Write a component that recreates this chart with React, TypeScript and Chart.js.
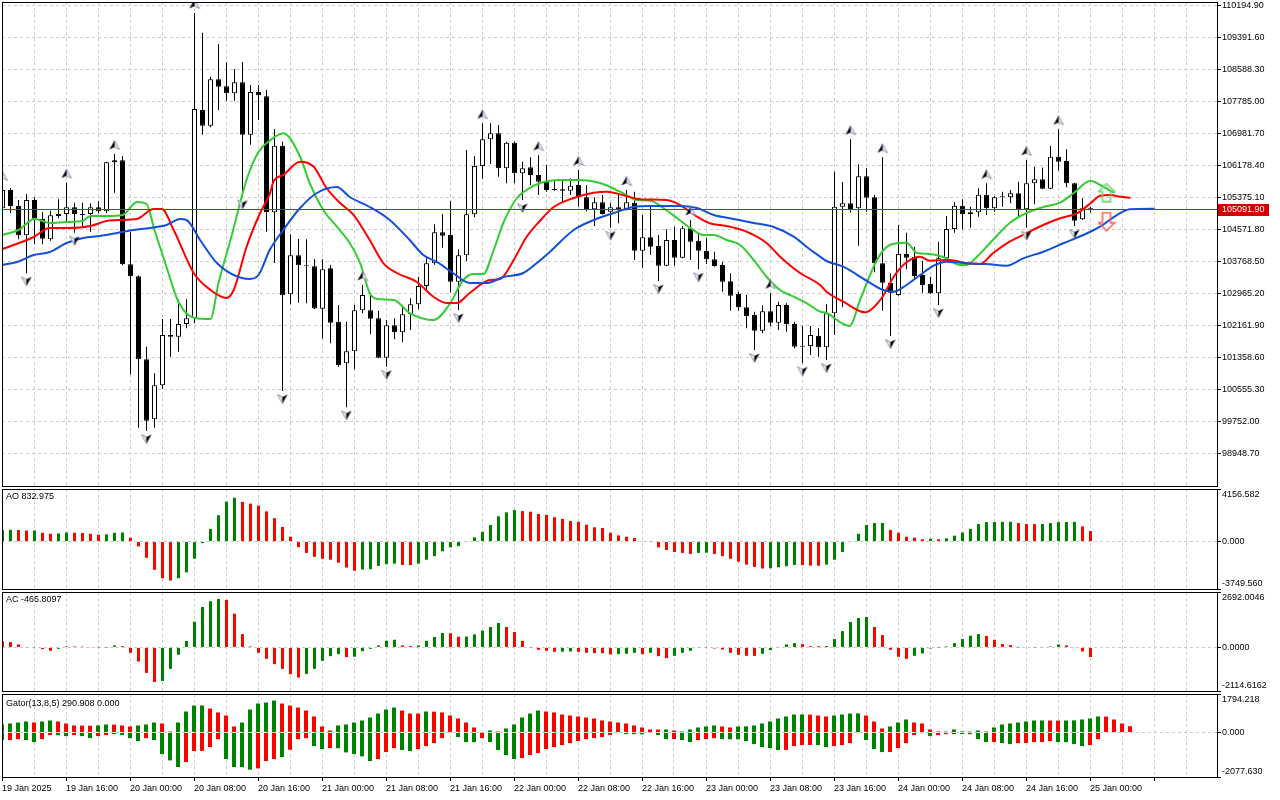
import React, { useEffect, useRef } from "react";
import { Chart, registerables } from "chart.js";

Chart.register(...registerables);

const FONT_FAMILY = "'Liberation Sans', Arial, Helvetica, sans-serif";
Chart.defaults.font.family = FONT_FAMILY;
Chart.defaults.font.size = 9;
Chart.defaults.color = "#000";

const GRID_COLOR = "#cccccc";
const BULL = "#008000";
const BEAR = "#ff0000";
const JAW_COLOR = "#1250d8";
const TEETH_COLOR = "#ff0000";
const LIPS_COLOR = "#32cd32";

// ---------- time axis ----------
const xLabels = [
  "19 Jan 2025", "19 Jan 16:00", "20 Jan 00:00", "20 Jan 08:00", "20 Jan 16:00",
  "21 Jan 00:00", "21 Jan 08:00", "21 Jan 16:00", "22 Jan 00:00", "22 Jan 08:00",
  "22 Jan 16:00", "23 Jan 00:00", "23 Jan 08:00", "23 Jan 16:00", "24 Jan 00:00",
  "24 Jan 08:00", "24 Jan 16:00", "25 Jan 00:00",
];

// ---------- price axis ----------
const priceMax = 110295.3;
const priceMin = 98145.4;
const priceTicks = [
  110194.9, 109391.6, 108588.3, 107785.0, 106981.7, 106178.4, 105375.1, 104571.8,
  103768.5, 102965.2, 102161.9, 101358.6, 100555.3, 99752.0, 98948.7,
];

// ---------- candles (H1) ----------
const opens = [
  105116, 105576, 105174, 104438, 105325, 104856, 104338, 104973, 104973, 105141,
  104973, 104973, 105141, 105040, 106270, 106321, 103710, 103409, 101325, 99819,
  100672, 101936, 101894, 102212, 102354, 107584, 107191, 108354, 108178, 108003,
  108279, 106965, 108036, 107927, 105016, 106688, 102958, 103937, 103686, 103661,
  102596, 103610, 102270, 101226, 101527, 102556, 102556, 102355, 101366, 102180,
  102004, 102456, 102707, 103166, 103736, 104514, 104446, 103274, 103937, 104966,
  106178, 106849, 106999, 106121, 106763, 105995, 106146, 105953, 105784, 105576,
  105594, 105558, 105701, 105393, 105092, 105267, 105031, 105142, 105074, 105257,
  104052, 104389, 104170, 103676, 104321, 103877, 104615, 104303, 104045, 103836,
  103693, 103284, 102965, 102631, 102438, 102044, 102531, 102245, 102689, 102212,
  101642, 101660, 101918, 101627, 102481, 105157, 105242, 105117, 105920, 105393,
  103736, 103249, 102940, 103969, 103901, 103442, 103216, 102983, 103861, 104597,
  105182, 104973, 105016, 105458, 105117, 105393, 105393, 105493, 105092, 105744,
  105844, 105609, 106412, 106304, 105744, 104840, 105117,
];
const highs = [
  105700, 105618, 105325, 105475, 105392, 105024, 105057, 105342, 105760, 105258,
  105258, 105241, 105291, 106287, 106480, 106429, 104513, 103430, 101643, 100974,
  102338, 102338, 102831, 102831, 110020, 109525, 108421, 109241, 108781, 108613,
  108789, 108212, 108212, 108086, 107107, 106788, 104464, 104346, 104338, 103836,
  103836, 103693, 102689, 102270, 102689, 103191, 102998, 102546, 102313, 102355,
  102689, 102857, 103399, 103861, 104715, 104973, 105300, 104087, 106580, 106429,
  107250, 107250, 107208, 106788, 106790, 106286, 106397, 106450, 106203, 105827,
  105809, 105870, 106078, 105701, 105393, 105450, 105257, 105475, 105576, 105533,
  104948, 105157, 104446, 104589, 104655, 104672, 104823, 104471, 104364, 104027,
  103776, 103485, 103023, 102940, 102521, 102681, 102983, 102772, 102732, 102270,
  102170, 102162, 102104, 102707, 106035, 105777, 106849, 106221, 106121, 105450,
  106397, 103485, 104697, 104504, 104153, 103801, 103399, 104278, 104923, 105267,
  105342, 105157, 105619, 105744, 105425, 105533, 105576, 105784, 106329, 106161,
  106140, 106680, 107100, 106598, 105760, 105368, 105157,
];
const lows = [
  105074, 104990, 104338, 103484, 104212, 104212, 104304, 104865, 104798, 104505,
  104655, 104530, 104990, 104990, 105509, 103690, 100949, 99610, 99526, 99610,
  100580, 101392, 101518, 102103, 102229, 106965, 107150, 107584, 107818, 107818,
  105409, 106714, 107333, 104530, 103743, 100530, 102707, 102747, 102732, 102589,
  101843, 101728, 101140, 100121, 101075, 102481, 101954, 101351, 101140, 101828,
  101753, 102061, 102581, 103066, 103700, 104127, 103008, 102564, 103794, 104891,
  105860, 106229, 105910, 105744, 105744, 105325, 105701, 105450, 105533, 105560,
  105257, 105450, 105157, 105040, 104672, 104960, 104630, 104740, 105060, 103819,
  103625, 103944, 103292, 103660, 103676, 103860, 103819, 103585, 103718, 103650,
  103023, 102546, 102546, 102104, 101560, 101979, 102162, 102061, 102019, 101600,
  101226, 101434, 101391, 101308, 101936, 102631, 105006, 104178, 105031, 103510,
  102546, 101911, 102920, 103585, 103317, 102998, 102965, 102689, 103819, 104504,
  104589, 104630, 104906, 104948, 105031, 105157, 105242, 104923, 104630, 105217,
  105594, 105594, 106060, 105644, 104672, 104820, 105006,
];
const closes = [
  105576, 105174, 104438, 105325, 104856, 104354, 104940, 104923, 105141, 104973,
  104948, 105141, 105040, 106270, 106321, 103710, 103409, 101325, 99786, 100672,
  101936, 101894, 102212, 102354, 107609, 107191, 108354, 108170, 108003, 108279,
  106965, 108036, 107952, 105015, 106688, 102933, 103937, 103686, 103661, 102600,
  103585, 102245, 101183, 101527, 102556, 102940, 102345, 101366, 102180, 102004,
  102456, 102707, 103166, 103736, 104514, 104429, 103274, 103937, 104966, 106178,
  106849, 106999, 106121, 106763, 105995, 106121, 105953, 105784, 105576, 105601,
  105558, 105684, 105393, 105074, 105267, 104973, 105142, 105074, 105267, 104052,
  104389, 104153, 103676, 104321, 103877, 104615, 104278, 104052, 103836, 103668,
  103274, 102923, 102631, 102413, 102044, 102531, 102245, 102689, 102212, 101642,
  101660, 101936, 101627, 102481, 105157, 105242, 105099, 105920, 105383, 103736,
  103249, 102998, 103969, 103877, 103417, 103191, 102983, 103861, 104597, 105182,
  104966, 105016, 105458, 105117, 105393, 105408, 105493, 105092, 105744, 105844,
  105609, 106412, 106286, 105744, 104805, 105117, 105091.9,
];

// ---------- fractals (bar indices) ----------
const upFractals = [0, 8, 14, 24, 45, 60, 67, 72, 78, 86, 96, 106, 110, 123, 128, 132];
const downFractals = [3, 9, 18, 30, 35, 43, 48, 57, 65, 76, 82, 87, 94, 100, 103, 111, 117, 128, 134];

// ---------- alligator (bar index, price) ----------
const jawLine = [
  [0, 103693], [1.8, 103769], [3.9, 103944], [5.9, 104020], [8, 104245], [10.1, 104371],
  [12.2, 104421], [14.3, 104497], [16.4, 104572], [18.4, 104622], [20.5, 104697], [22.2, 104848],
  [23, 104823], [24.7, 104321], [26.8, 103743], [28.9, 103442], [30.9, 103342], [32, 103442],
  [33.4, 104070], [35.1, 104572], [37.2, 105124], [39.3, 105501], [41.8, 105651], [43.4, 105400],
  [45.9, 105149], [48.4, 104823], [50.9, 104321], [52.6, 103944], [54.3, 103769], [56.3, 103492],
  [58.4, 103241], [60.5, 103241], [62.6, 103392], [65.1, 103492], [66.8, 103743], [68.4, 104020],
  [71.4, 104572], [73.9, 104823], [76.4, 104999], [78.9, 105149], [81, 105174], [84.7, 105174],
  [86.8, 105124], [88.9, 104948], [91.4, 104848], [93.9, 104748], [96.4, 104647], [98.9, 104404],
  [100.5, 104153], [102.2, 103902], [103, 103794], [105.1, 103650], [108, 103299], [110.1, 103066],
  [111.4, 103023], [113, 103191], [114.7, 103442], [116.4, 103676], [118, 103776], [120.5, 103736],
  [123, 103718], [125.5, 103676], [127.6, 103861], [130.1, 104027], [132.6, 104238], [135.1, 104446],
  [137.2, 104655], [139.3, 104948], [140.9, 105092], [144, 105107],
];
const teethLine = [
  [0, 104095], [3.9, 104396], [5.9, 104622], [8, 104622], [11, 104672], [13, 104798],
  [14.7, 104823], [16.8, 104848], [18.9, 105099], [19.9, 105099], [21.4, 104572], [23.9, 103492],
  [26, 103066], [28, 102865], [28.9, 103066], [30.5, 104145], [32.2, 104999], [33.4, 105475],
  [33.9, 105800], [35.1, 105953], [37.2, 106286], [38.9, 106161], [40.5, 105626], [42.2, 105250],
  [43.9, 104948], [45.9, 104321], [47.6, 103743], [49.3, 103492], [51.8, 103266], [53.9, 102890],
  [55.5, 102739], [56.8, 102739], [58.4, 102990], [60.9, 103317], [62.2, 103342], [63.9, 103819],
  [65.5, 104396], [67.2, 104805], [68.9, 105149], [71.4, 105375], [73.9, 105508], [75.5, 105533],
  [78, 105425], [79.7, 105342], [83, 105325], [84.7, 105199], [86.8, 104906], [88.4, 104740],
  [90.5, 104672], [93, 104529], [95.5, 104245], [97.2, 103902], [99.7, 103492], [102.2, 103191],
  [103, 103023], [105.1, 102772], [107.8, 102506], [109.9, 102865], [111.4, 103399], [113, 103761],
  [114.7, 103902], [115.9, 103801], [118.4, 103819], [120.5, 103736], [122.2, 103718], [123.8, 103987],
  [125.9, 104278], [128, 104489], [130.1, 104697], [132.2, 104866], [134.3, 104991], [136, 105242],
  [137.2, 105433], [138.5, 105450], [139.7, 105408], [141, 105383],
];
const lipsLine = [
  [0, 104446], [2, 104572], [4, 104848], [6, 104748], [8, 104773], [10, 104798], [11, 104923],
  [13, 104923], [15, 104948], [16.8, 105275], [18, 105224], [19, 104572], [20.5, 103643],
  [22, 102764], [24, 102363], [26, 102338], [27, 103241], [28.5, 104321], [30.5, 105827],
  [32, 106530], [33.4, 106813], [35.1, 106999], [37.2, 106412], [38.4, 105752], [40.1, 105074],
  [41.8, 104655], [43.4, 104245], [44.7, 103743], [45.9, 102990], [46.8, 102840], [48.9, 102815],
  [50.9, 102488], [53.9, 102313], [55.9, 102714], [57.6, 103317], [58.9, 103467], [60.1, 103467],
  [61.4, 104070], [62.6, 104748], [64.3, 105375], [65.5, 105576], [67.2, 105752], [69.7, 105827],
  [71.8, 105827], [74.7, 105752], [77.2, 105533], [79.3, 105325], [81, 105307], [82.6, 105124],
  [84.3, 104873], [86, 104622], [87.6, 104446], [88.9, 104446], [90.5, 104321], [92.2, 104195],
  [93.9, 103819], [95.5, 103399], [97.2, 103066], [98.9, 102897], [100.5, 102739], [102.2, 102521],
  [103, 102488], [105.1, 102212], [105.9, 102162], [107.2, 102815], [109.3, 103819], [110.9, 104195],
  [113, 104253], [114.3, 103994], [115.9, 103969], [117.6, 103894], [119.7, 103693], [120.5, 103693],
  [121.8, 103902], [123.8, 104321], [125.9, 104748], [128, 104999], [130.1, 105149], [132.2, 105257],
  [133.9, 105501], [136, 105809], [137.2, 105701], [139, 105501],
];
const signalUp = [[138, 105513]];
const signalDown = [[138, 104780]];

// ---------- Awesome Oscillator ----------
const aoTitle = "AO 832.975";
const aoRange = [-3749.56, 4156.582];
const aoValues = [
  924, 930, 915, 873, 880, 693, 616, 642, 719, 693,
  680, 616, 540, 570, 693, 719, 308, -385, -1283, -2233,
  -2900, -3080, -2900, -2439, -1360, -128, 1001, 2079, 3157, 3465,
  3132, 3003, 2849, 2387, 1848, 1155, 385, -436, -898, -1206,
  -1360, -1437, -1669, -2054, -2310, -2208, -2182, -1925, -1797, -1746,
  -1848, -1860, -1746, -1437, -1155, -770, -462, -359, -30, 334,
  770, 1309, 2002, 2310, 2490, 2413, 2362, 2182, 2105, 1925,
  1797, 1617, 1566, 1335, 1129, 1078, 693, 488, 385, 282,
  50, -20, -462, -667, -821, -898, -975, -898, -880, -975,
  -1155, -1360, -1591, -1822, -2002, -2130, -2110, -2028, -1950, -1848,
  -1860, -1900, -1910, -1822, -1437, -821, -30, 616, 1309, 1463,
  1470, 924, 693, 385, 308, 180, 231, 180, 257, 462,
  719, 1001, 1386, 1540, 1550, 1560, 1565, 1463, 1386, 1380,
  1390, 1463, 1540, 1550, 1560, 1200, 833,
];
const aoColors =
  "ggrrgrrggr" + "rrrgggrrrr" + "rrgggggggg" + "rrrrrrrrrr" + "rrrrrggggg" +
  "rrgggggggg" + "gggggrrrrr" + "rrrrrrrrrr" + "rrrrrrrggr" + "rrrrrrgggg" +
  "rrrggggggg" + "grrrrrgrgg" + "gggggggrrr" + "gggggrr";

// ---------- Accelerator Oscillator ----------
const acTitle = "AC -465.8097";
const acRange = [-2114.6162, 2692.0046];
const acValues = [
  293, 260, 146, -16, -10, -81, -163, -65, 49, 49,
  40, 16, 5, -5, 97, 65, -260, -683, -1235, -1674,
  -1625, -1040, -358, 309, 1251, 1966, 2243, 2356, 2308, 1641,
  650, 49, -260, -553, -813, -1040, -1300, -1463, -1284, -1040,
  -650, -423, -325, -470, -450, -179, -65, 97, 325, 374,
  97, 65, 97, 325, 504, 699, 690, 520, 530, 634,
  813, 991, 1186, 991, 748, 325, -10, -114, -163, -211,
  -205, -195, -211, -260, -276, -280, -341, -325, -309, -260,
  -325, -260, -423, -520, -406, -260, -163, -16, 10, -49,
  -97, -260, -358, -406, -410, -309, -130, 16, 146, 211,
  163, 65, 60, 70, 406, 796, 1235, 1430, 1479, 991,
  601, -114, -455, -553, -406, -293, -49, -5, 49, 211,
  406, 569, 650, 553, 374, 163, 114, 5, -30, -10,
  16, 49, 146, 97, 16, -195, -466,
];
const acColors =
  "rrrrgrrgrr" + "rrrggrrrrr" + "ggggggggrr" + "rrrrrrrrgg" + "gggrgggggg" +
  "rrggggrrgg" + "gggrrrrrrr" + "ggrrrrrggg" + "rgrrggggrr" + "rrrrrggggg" +
  "rrrggggggr" + "rrrrgggggg" + "gggrrrrgrg" + "gggrrrr";

// ---------- Gator Oscillator ----------
const gatorTitle = "Gator(13,8,5) 290.908 0.000";
const gatorRange = [-2077.63, 1794.218];
const gatorUpper = [
  372, 419, 465, 512, 465, 512, 558, 512, 419, 326,
  320, 315, 330, 372, 365, 326, 279, 326, 372, 465,
  419, 47, 465, 977, 1256, 1260, 1116, 930, 791, 279,
  465, 1070, 1349, 1395, 1488, 1349, 1256, 1163, 1023, 744,
  279, 93, 326, 372, 465, 558, 698, 884, 1070, 1163,
  1023, 884, 880, 977, 970, 930, 791, 651, 465, 233,
  10, 93, 47, 186, 372, 698, 884, 1023, 977, 930,
  837, 791, 744, 698, 651, 558, 512, 465, 419, 326,
  233, 140, 135, 140, 93, 47, 140, 233, 279, 326,
  279, 233, 279, 285, 326, 419, 512, 651, 744, 837,
  840, 830, 791, 744, 791, 837, 884, 890, 791, 512,
  186, 279, 465, 605, 465, 419, 140, 47, 40, 140,
  47, 40, 93, 47, 233, 372, 419, 465, 512, 558,
  560, 555, 550, 558, 565, 605, 651, 744, 740, 605,
  419, 291,
];
const gatorUpperColors =
  "ggggrggrrr" + "rrggrrrggg" + "rrggggrrrr" + "gggggrrrrr" + "rrgggggggg" +
  "rrrgrrrrrr" + "rgrgggggrr" + "rrrrrrrrrr" + "rrrgrrgggg" + "rrgggggggg" +
  "grrrggggrr" + "rgggrrrrrg" + "rrgrgggggg" + "grrgggggrr" + "rr";
const gatorLower = [
  -357, -350, -310, -357, -450, -310, -124, -130, -171, -124,
  -171, -264, -171, -124, -78, -124, -264, -403, -264, -357,
  -1008, -1302, -1612, -1380, -868, -860, -682, -310, -1240, -1612,
  -1620, -1736, -1674, -1333, -1240, -1147, -806, -310, -264, -636,
  -775, -729, -735, -930, -1008, -1116, -1333, -1240, -915, -729,
  -822, -868, -775, -636, -496, -264, -31, -217, -450, -455,
  -264, -450, -822, -1054, -1240, -1194, -1054, -961, -775, -682,
  -589, -496, -403, -310, -264, -217, -124, -31, -78, -80,
  -85, -5, -124, -310, -305, -357, -450, -357, -310, -264,
  -310, -315, -320, -403, -543, -682, -729, -822, -815, -636,
  -589, -585, -590, -682, -636, -589, -496, -31, -357, -775,
  -915, -910, -729, -496, -124, -31, -171, -124, -78, -80,
  -75, -80, -310, -450, -445, -496, -543, -496, -490, -450,
  -445, -403, -450, -455, -543, -636, -589, -310,
];
const gatorLowerColors =
  "grrggrrggr" + "ggrrrgggrg" + "gggrrrrrgg" + "ggrrrgrrrg" + "grgggggrrr" +
  "ggrrrrrggg" + "rggggrrrrr" + "rrrrrrrrgg" + "grggrggrrr" + "ggggggggrr" +
  "rrggrrrrgg" + "grrrrrgrrg" + "rgggrggrrr" + "rrggggrr";

// ---------- geometry ----------
const X_MIN = -0.0625;
const X_MAX = X_MIN + 1215 / 8;
const AXIS_W = 63;

const tickFont = { family: FONT_FAMILY, size: 9 };

function zeroPad(s: any) {
  s.paddingLeft = 0;
  s.paddingRight = 0;
  s.paddingTop = 0;
  s.paddingBottom = 0;
}

function xScale(showLabels: boolean, shift: number) {
  return {
    type: "linear",
    min: X_MIN + shift,
    max: X_MAX + shift,
    offset: false,
    afterBuildTicks: (s: any) => {
      const t: any[] = [];
      for (let k = 0; k <= 151; k += 4) t.push({ value: k });
      s.ticks = t;
    },
    afterFit: (s: any) => {
      s.height = showLabels ? 22 : 0;
      zeroPad(s);
    },
    ticks: {
      display: showLabels,
      autoSkip: false,
      maxRotation: 0,
      minRotation: 0,
      align: "start",
      padding: 2,
      color: "#000",
      font: tickFont,
      callback: (v: any) => (v % 8 === 0 && xLabels[v / 8] ? xLabels[v / 8] : ""),
    },
    grid: {
      color: GRID_COLOR,
      offset: false,
      drawTicks: showLabels,
      tickLength: 4,
      tickColor: (ctx: any) => (ctx.tick && ctx.tick.value % 8 === 0 ? "#000" : "rgba(0,0,0,0)"),
    },
    border: { display: false, dash: [3, 3] },
  };
}

function subYScale(range: number[], decimals: number, gridOnTop: boolean) {
  const [mn, mx] = range;
  return {
    position: "right",
    min: mn,
    max: mx,
    afterBuildTicks: (s: any) => {
      s.ticks = [mn, 0, mx].map((v) => ({ value: v }));
    },
    afterFit: (s: any) => {
      s.width = AXIS_W;
      zeroPad(s);
    },
    ticks: {
      autoSkip: false,
      padding: 1,
      color: "#000",
      font: tickFont,
      callback: (v: any) =>
        v === mx ? ["", mx.toFixed(decimals)] : v === mn ? [mn.toFixed(decimals), ""] : (0).toFixed(decimals),
    },
    grid: {
      color: (ctx: any) => (ctx.tick && ctx.tick.value === 0 ? GRID_COLOR : "rgba(0,0,0,0)"),
      tickLength: 4,
      tickColor: "#000",
      z: gridOnTop ? 1 : 0,
    },
    border: { display: false, dash: [3, 3] },
  };
}

const framePlugin = {
  id: "frame",
  afterDraw(chart: any) {
    const { ctx, chartArea: a } = chart;
    ctx.save();
    ctx.strokeStyle = "#000";
    ctx.lineWidth = 1;
    ctx.strokeRect(a.left + 0.5, a.top + 0.5, a.right - a.left, a.bottom - a.top);
    ctx.restore();
  },
};

function titlePlugin(text: string, dy: number) {
  return {
    id: "paneTitle",
    afterDraw(chart: any) {
      const { ctx, chartArea: a } = chart;
      ctx.save();
      ctx.font = `9px ${FONT_FAMILY}`;
      ctx.fillStyle = "#000";
      ctx.textAlign = "left";
      ctx.textBaseline = "middle";
      ctx.fillText(text, a.left + 4, a.top + dy);
      ctx.restore();
    },
  };
}

const lastClose = closes[closes.length - 1];

const bidPlugin = {
  id: "bidLine",
  afterDatasetsDraw(chart: any) {
    const { ctx, chartArea: a } = chart;
    const y = Math.round(chart.scales.y.getPixelForValue(lastClose)) + 0.5;
    ctx.save();
    ctx.strokeStyle = "#ff0000";
    ctx.lineWidth = 1;
    ctx.beginPath();
    ctx.moveTo(a.left, y);
    ctx.lineTo(a.right, y);
    ctx.stroke();
    ctx.restore();
  },
  afterDraw(chart: any) {
    const { ctx, chartArea: a } = chart;
    const y = Math.round(chart.scales.y.getPixelForValue(lastClose));
    ctx.save();
    ctx.fillStyle = "#d00000";
    ctx.fillRect(a.right + 1, y - 5, 51, 12);
    ctx.fillStyle = "#fff";
    ctx.font = `9px ${FONT_FAMILY}`;
    ctx.textAlign = "left";
    ctx.textBaseline = "middle";
    ctx.fillText(lastClose.toFixed(2), a.right + 5, y + 1);
    ctx.restore();
  },
};

function makeIcon(kind: string): HTMLCanvasElement {
  const c = document.createElement("canvas");
  if (kind === "fu" || kind === "fd") {
    c.width = 12;
    c.height = 30;
    const g = c.getContext("2d") as CanvasRenderingContext2D;
    g.lineWidth = 1;
    if (kind === "fu") {
      const cy = 6;
      g.beginPath();
      g.moveTo(6, cy - 4.5); g.lineTo(11, cy + 4.5); g.lineTo(6, cy + 2); g.closePath();
      g.fillStyle = "#eef2f8"; g.fill();
      g.strokeStyle = "#8a94a8"; g.stroke();
      g.beginPath();
      g.moveTo(6, cy - 4.5); g.lineTo(1, cy + 4.5); g.lineTo(6, cy + 2); g.closePath();
      g.fillStyle = "#000"; g.fill();
    } else {
      const cy = 23;
      g.beginPath();
      g.moveTo(6, cy + 4.5); g.lineTo(1, cy - 4.5); g.lineTo(6, cy - 2); g.closePath();
      g.fillStyle = "#eef2f8"; g.fill();
      g.strokeStyle = "#8a94a8"; g.stroke();
      g.beginPath();
      g.moveTo(6, cy + 4.5); g.lineTo(11, cy - 4.5); g.lineTo(6, cy - 2); g.closePath();
      g.fillStyle = "#000"; g.fill();
    }
  } else {
    c.width = 18;
    c.height = 20;
    const g = c.getContext("2d") as CanvasRenderingContext2D;
    g.lineWidth = 1.5;
    g.beginPath();
    if (kind === "su") {
      g.moveTo(9, 1); g.lineTo(17, 9); g.lineTo(13, 9); g.lineTo(13, 19);
      g.lineTo(5, 19); g.lineTo(5, 9); g.lineTo(1, 9);
      g.strokeStyle = "#66d866";
    } else {
      g.moveTo(5, 1); g.lineTo(13, 1); g.lineTo(13, 11); g.lineTo(17, 11);
      g.lineTo(9, 19); g.lineTo(1, 11); g.lineTo(5, 11);
      g.strokeStyle = "#ff5a5a";
    }
    g.closePath();
    g.stroke();
  }
  return c;
}

function lineDs(pts: number[][], color: string) {
  return {
    type: "line",
    data: pts.map(([x, y]) => ({ x, y })),
    borderColor: color,
    borderWidth: 2,
    pointRadius: 0,
    fill: false,
    cubicInterpolationMode: "monotone",
    order: 3,
  };
}

function baseOptions(padding: any, scales: any) {
  return {
    responsive: false,
    animation: false,
    events: [],
    layout: { padding, autoPadding: false },
    plugins: { legend: { display: false }, tooltip: { enabled: false }, title: { display: false } },
    scales,
  };
}

function mainConfig(): any {
  const idx = opens.map((_, i) => i);
  const icons = { fu: makeIcon("fu"), fd: makeIcon("fd"), su: makeIcon("su"), sd: makeIcon("sd") };
  return {
    type: "bar",
    data: {
      datasets: [
        {
          type: "bar",
          data: idx.map((i) => ({ x: i, y: [lows[i], highs[i]] })),
          backgroundColor: "#000",
          borderWidth: 0,
          barThickness: 1,
          grouped: false,
          inflateAmount: 0,
          order: 5,
        },
        {
          type: "bar",
          data: idx.map((i) => ({ x: i, y: [opens[i], closes[i]] })),
          backgroundColor: idx.map((i) => (closes[i] >= opens[i] ? "#fff" : "#000")),
          borderColor: "#000",
          borderWidth: 1,
          borderSkipped: false,
          barThickness: 5,
          minBarLength: 1,
          grouped: false,
          inflateAmount: 0,
          order: 4,
        },
        lineDs(jawLine, JAW_COLOR),
        lineDs(teethLine, TEETH_COLOR),
        lineDs(lipsLine, LIPS_COLOR),
        {
          type: "line",
          showLine: false,
          data: upFractals.map((k) => ({ x: k, y: highs[k] })),
          pointStyle: icons.fu,
          pointRadius: 5,
          order: 1,
        },
        {
          type: "line",
          showLine: false,
          data: downFractals.map((k) => ({ x: k, y: lows[k] })),
          pointStyle: icons.fd,
          pointRadius: 5,
          order: 1,
        },
        {
          type: "line",
          showLine: false,
          data: signalUp.map(([x, y]) => ({ x, y })),
          pointStyle: icons.su,
          pointRadius: 5,
          order: 0,
        },
        {
          type: "line",
          showLine: false,
          data: signalDown.map(([x, y]) => ({ x, y })),
          pointStyle: icons.sd,
          pointRadius: 5,
          order: 0,
        },
      ],
    },
    options: baseOptions(
      { left: 2, top: 2, right: 0, bottom: 4 },
      {
        x: xScale(false, 0),
        y: {
          position: "right",
          min: priceMin,
          max: priceMax,
          afterBuildTicks: (s: any) => {
            s.ticks = priceTicks.map((v) => ({ value: v }));
          },
          afterFit: (s: any) => {
            s.width = AXIS_W;
            zeroPad(s);
          },
          ticks: {
            autoSkip: false,
            padding: 1,
            color: "#000",
            font: tickFont,
            callback: (v: any) => Number(v).toFixed(2),
          },
          grid: { color: GRID_COLOR, tickLength: 4, tickColor: "#000" },
          border: { display: false, dash: [3, 3] },
        },
      }
    ),
    plugins: [bidPlugin, framePlugin],
  };
}

function histDs(values: number[], colors: string, thickness: number) {
  return {
    type: "bar",
    data: values.map((v, i) => ({ x: i, y: v })),
    backgroundColor: values.map((_, i) => (colors[i] === "g" ? BULL : BEAR)),
    borderWidth: 0,
    barThickness: thickness,
    inflateAmount: 0,
    grouped: false,
  };
}

function aoConfig(): any {
  return {
    type: "bar",
    data: { datasets: [histDs(aoValues, aoColors, 3)] },
    options: baseOptions({ left: 2, top: 3, right: 0, bottom: 3 }, {
      x: xScale(false, 0),
      y: subYScale(aoRange, 3, false),
    }),
    plugins: [framePlugin, titlePlugin(aoTitle, 8)],
  };
}

function acConfig(): any {
  return {
    type: "bar",
    data: { datasets: [histDs(acValues, acColors, 3)] },
    options: baseOptions({ left: 2, top: 3, right: 0, bottom: 3 }, {
      x: xScale(false, 0),
      y: subYScale(acRange, 4, false),
    }),
    plugins: [framePlugin, titlePlugin(acTitle, 8)],
  };
}

function gatorConfig(): any {
  return {
    type: "bar",
    data: {
      datasets: [
        histDs(gatorUpper, gatorUpperColors, 4),
        histDs(gatorLower, gatorLowerColors, 4),
      ],
    },
    options: baseOptions({ left: 2, top: 3, right: 0, bottom: 1 }, {
      x: xScale(true, 0.0625),
      y: subYScale(gatorRange, 3, true),
    }),
    plugins: [framePlugin, titlePlugin(gatorTitle, 10)],
  };
}

export default function App() {
  const mainRef = useRef<HTMLCanvasElement>(null);
  const aoRef = useRef<HTMLCanvasElement>(null);
  const acRef = useRef<HTMLCanvasElement>(null);
  const gatorRef = useRef<HTMLCanvasElement>(null);

  useEffect(() => {
    const charts: Chart[] = [];
    if (mainRef.current) charts.push(new Chart(mainRef.current, mainConfig()));
    if (aoRef.current) charts.push(new Chart(aoRef.current, aoConfig()));
    if (acRef.current) charts.push(new Chart(acRef.current, acConfig()));
    if (gatorRef.current) charts.push(new Chart(gatorRef.current, gatorConfig()));
    return () => charts.forEach((c) => c.destroy());
  }, []);

  const abs = (top: number): React.CSSProperties => ({ position: "absolute", left: 0, top });

  return (
    <div
      style={{
        position: "absolute",
        left: 0,
        top: 0,
        width: 1280,
        height: 800,
        background: "#fff",
        overflow: "hidden",
      }}
    >
      <canvas ref={mainRef} width={1280} height={490} style={abs(0)} />
      <canvas ref={aoRef} width={1280} height={106} style={abs(486)} />
      <canvas ref={acRef} width={1280} height={105} style={abs(589)} />
      <canvas ref={gatorRef} width={1280} height={109} style={abs(691)} />
    </div>
  );
}
